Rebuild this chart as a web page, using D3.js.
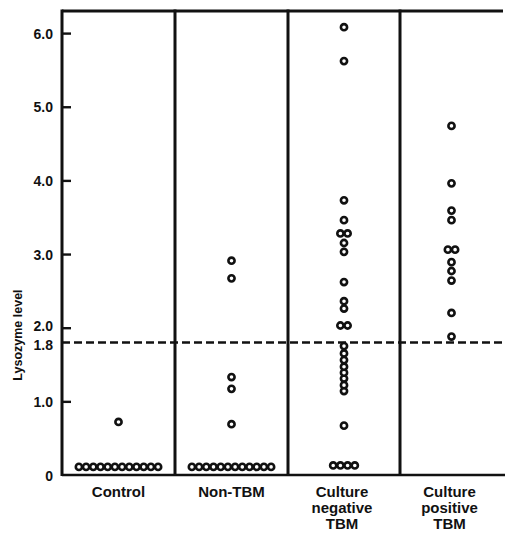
<!DOCTYPE html>
<html>
<head>
<meta charset="utf-8">
<script src="https://cdn.jsdelivr.net/npm/d3@7"></script>
<style>
  html, body { margin: 0; padding: 0; background: #fff; }
  svg { display: block; }
  text { font-family: "Liberation Sans", Arial, sans-serif; font-weight: bold; fill: #111; }
</style>
</head>
<body>
<svg id="chart" width="505" height="534"></svg>
<script>
// ---- data ----
const categories = ["Control", "Non-TBM", "Culture negative TBM", "Culture positive TBM"];
const categoryLines = [["Control"], ["Non-TBM"], ["Culture", "negative", "TBM"], ["Culture", "positive", "TBM"]];
const controlValues = [0.11, 0.11, 0.11, 0.11, 0.11, 0.11, 0.11, 0.11, 0.11, 0.11, 0.11, 0.11, 0.72];
const nonTbmValues = [0.11, 0.11, 0.11, 0.11, 0.11, 0.11, 0.11, 0.11, 0.11, 0.11, 0.11, 0.11,
                      0.69, 1.17, 1.33, 2.67, 2.91];
const cultureNegValues = [0.13, 0.13, 0.13, 0.13, 0.67, 1.14, 1.22, 1.31, 1.39, 1.47, 1.56, 1.65, 1.75,
                          2.03, 2.03, 2.26, 2.36, 2.62, 3.03, 3.15, 3.28, 3.28, 3.46, 3.73, 5.62, 6.08];
const culturePosValues = [1.88, 2.20, 2.64, 2.77, 2.89, 3.06, 3.06, 3.46, 3.59, 3.96, 4.74];
const tickValues = [0, 1.0, 1.8, 2.0, 3.0, 4.0, 5.0, 6.0];
const tickLabels = ["0", "1.0", "1.8", "2.0", "3.0", "4.0", "5.0", "6.0"];
const threshold = 1.8;
const yLabel = "Lysozyme level";

const groups = [controlValues, nonTbmValues, cultureNegValues, culturePosValues];

// ---- scales ----
const svg = d3.select("#chart");
const y = d3.scaleLinear().domain([0, 6.3]).range([475, 11]);
const x = d3.scaleLinear().domain([0, 1, 2, 3, 4]).range([62, 175, 288, 400, 503]);
const dotSpacing = 7.2;

// ---- frame ----
const ink = "#111";
svg.append("line").attr("x1", x(0)).attr("x2", x(4)).attr("y1", y(6.3)).attr("y2", y(6.3))
  .attr("stroke", ink).attr("stroke-width", 3);
svg.append("line").attr("x1", x(0)).attr("x2", 505).attr("y1", y(0)).attr("y2", y(0))
  .attr("stroke", ink).attr("stroke-width", 2.4);
[0, 1, 2, 3].forEach(i => {
  svg.append("line").attr("x1", x(i)).attr("x2", x(i)).attr("y1", y(6.3) - 1.5).attr("y2", y(0) + 1)
    .attr("stroke", ink).attr("stroke-width", 3);
});

// ---- y axis (inward ticks) ----
const axis = d3.axisLeft(y).tickValues(tickValues)
  .tickFormat((d, i) => tickLabels[i]).tickSizeInner(-9).tickSizeOuter(0).tickPadding(9);
const ag = svg.append("g").attr("transform", `translate(${x(0)},0)`).call(axis);
ag.select(".domain").remove();
ag.selectAll(".tick line").attr("stroke", ink).attr("stroke-width", 2.4)
  .filter(d => d === 0 || d === threshold).remove();
ag.selectAll(".tick text").attr("font-size", 14).attr("fill", ink)
  .style("font-family", "'Liberation Sans', Arial, sans-serif").style("font-weight", "bold")
  .attr("dy", d => d === threshold ? "0.5em" : d === 2 ? "0.22em" : "0.36em");

svg.append("text").attr("transform", `translate(22,${y(1.9)}) rotate(-90)`)
  .attr("text-anchor", "middle").attr("font-size", 12.5).text(yLabel);

// ---- threshold dashed line ----
svg.append("line").attr("x1", x(0)).attr("x2", 505).attr("y1", y(threshold)).attr("y2", y(threshold))
  .attr("stroke", ink).attr("stroke-width", 2.4).attr("stroke-dasharray", "8,4");

// ---- dots ----
groups.forEach((vals, gi) => {
  const cx = x(gi + 0.5);
  const counts = d3.rollup(vals, v => v.length, d => d);
  const seen = new Map();
  const pts = vals.map(v => {
    const n = counts.get(v);
    const k = seen.get(v) || 0;
    seen.set(v, k + 1);
    return { v, dx: (k - (n - 1) / 2) * dotSpacing };
  });
  svg.append("g").selectAll("circle").data(pts).join("circle")
    .attr("cx", d => cx + d.dx).attr("cy", d => y(d.v)).attr("r", 3.1)
    .attr("fill", "#fff").attr("stroke", ink).attr("stroke-width", 2.6);
});

// ---- category labels ----
categoryLines.forEach((lines, gi) => {
  const lx = x(gi + 0.5) - (gi >= 2 ? 2 : 0);
  const t = svg.append("text").attr("x", lx).attr("y", 497)
    .attr("text-anchor", "middle").attr("font-size", 15);
  lines.forEach((ln, li) => {
    t.append("tspan").attr("x", lx).attr("dy", li === 0 ? 0 : 16).text(ln);
  });
});
</script>
</body>
</html>
